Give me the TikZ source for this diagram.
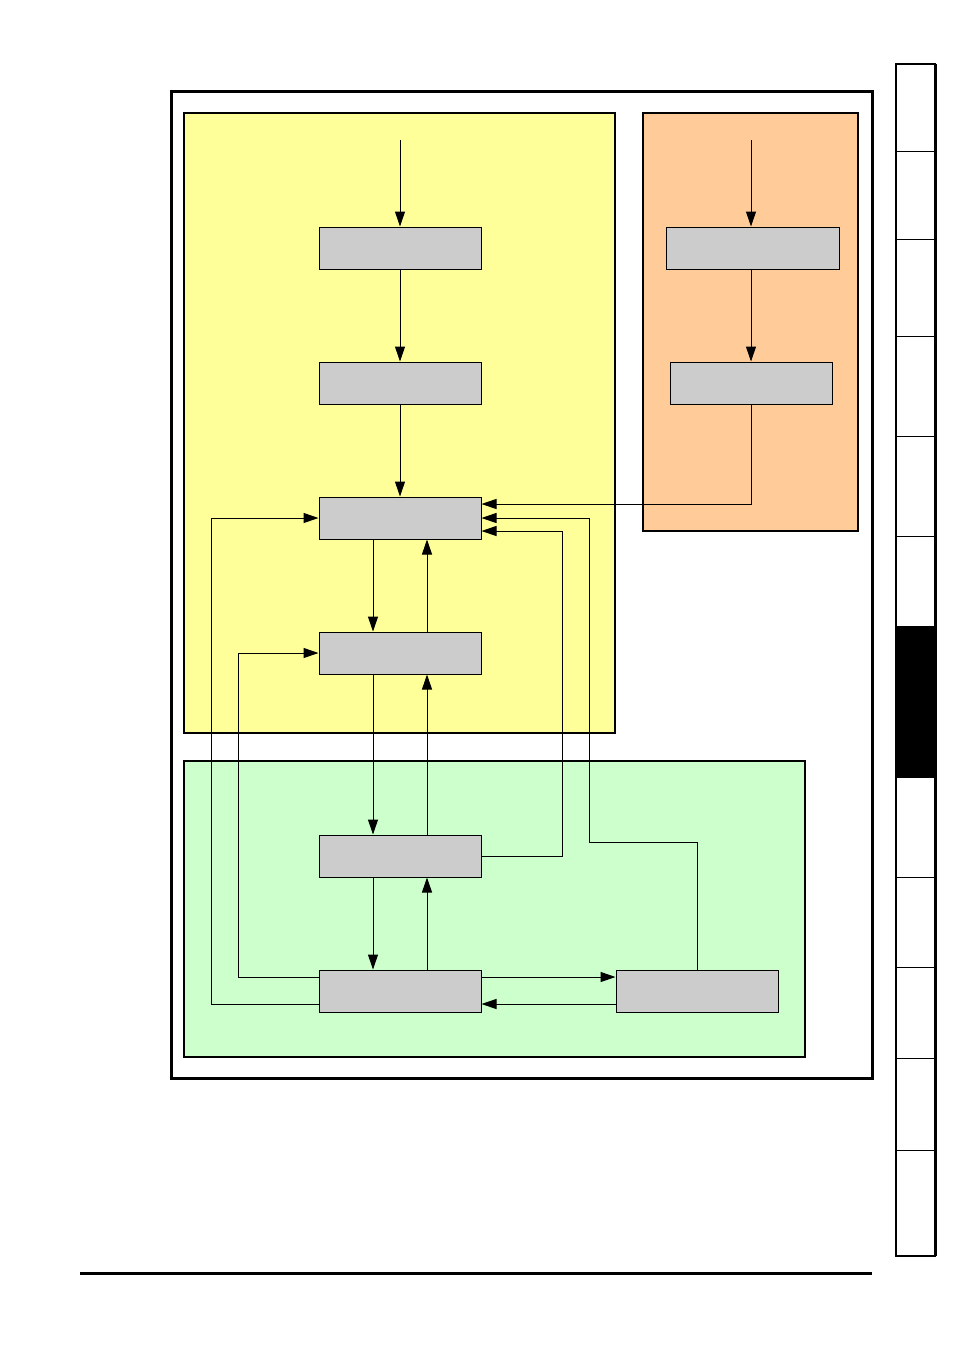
\documentclass[tikz,border=0pt]{standalone}
\usetikzlibrary{arrows.meta}
\definecolor{yel}{HTML}{FFFF99}
\definecolor{ora}{HTML}{FFCC99}
\definecolor{grn}{HTML}{CCFFCC}
\definecolor{gry}{HTML}{CCCCCC}
\begin{document}
\begin{tikzpicture}[x=0.5pt,y=-0.5pt,
  panel/.style={draw=black,line width=1pt},
  box/.style={draw=black,fill=gry,line width=0.5pt,inner sep=0pt,minimum width=81pt,minimum height=21pt},
  arr/.style={line width=0.5pt,-{Triangle[length=7.5pt,width=5pt]}},
  ln/.style={line width=0.5pt}]
\useasboundingbox (0,0) rectangle (954,1351);
% frame and panels
\draw[line width=1.5pt] (171,91) rectangle (872,1078);
\draw[panel,fill=yel] (184,113) rectangle (615,733);
\draw[panel,fill=ora] (643,113) rectangle (858,531);
\draw[panel,fill=grn] (184,761) rectangle (805,1057);
% boxes
\node[box] (a1) at (400,248) {};
\node[box] (a2) at (400,383) {};
\node[box] (a3) at (400,518) {};
\node[box] (a4) at (400,653) {};
\node[box] (g1) at (400,856) {};
\node[box] (g2) at (400,991) {};
\node[box] (g3) at (697,991) {};
\node[box,minimum width=86.5pt] (o1) at (752.5,248) {};
\node[box] (o2) at (751,383) {};
% coordinates
\coordinate (inA) at (400,140);
\coordinate (inO) at (751,140);
\coordinate (c1) at (589,842);
\coordinate (c2) at (562,531);
\coordinate (c3) at (238,653);
\coordinate (c4) at (211,518);
% connectors
\draw[arr] (inA) -- (a1.north);
\draw[arr] (a1.south) -- (a2.north);
\draw[arr] (a2.south) -- (a3.north);
\draw[arr] (inO) -- (inO |- o1.north);
\draw[arr] (o1.south -| o2.north) -- (o2.north);
\draw[arr] (o2.south) |- ([yshift=7pt]a3.east);
\draw[arr] (g3.north) |- (c1) |- (a3.east);
\draw[arr] (g1.east) -| (c2) -- ([yshift=-6.5pt]a3.east);
\draw[arr] ([xshift=-13.5pt]a3.south) -- ([xshift=-13.5pt]a4.north);
\draw[arr] ([xshift=13.5pt]a4.north) -- ([xshift=13.5pt]a3.south);
\draw[arr] ([xshift=-13.5pt]a4.south) -- ([xshift=-13.5pt]g1.north);
\draw[arr] ([xshift=13.5pt]g1.north) -- ([xshift=13.5pt]a4.south);
\draw[arr] ([xshift=-13.5pt]g1.south) -- ([xshift=-13.5pt]g2.north);
\draw[arr] ([xshift=13.5pt]g2.north) -- ([xshift=13.5pt]g1.south);
\draw[arr] ([yshift=7pt]g2.west) -| (c3) -- (a4.west);
\draw[arr] ([yshift=-6.5pt]g2.west) -| (c4) -- (a3.west);
\draw[arr] ([yshift=7pt]g2.east) -- ([yshift=7pt]g3.west);
\draw[arr] ([yshift=-6.5pt]g3.west) -- ([yshift=-6.5pt]g2.east);
% side tab
\fill[black] (896,626) rectangle (935,778);
\foreach \yy in {151,239,336,436,536,877,967,1058,1150}
  \draw[ln] (896,\yy) -- (935,\yy);
\draw[line width=1.1pt] (896,64) rectangle (935,1256);
\draw[line width=1.5pt] (935,64) -- (935,1256);
% bottom rule
\draw[line width=1.5pt] (80,1273) -- (872,1273);
\end{tikzpicture}
\end{document}
